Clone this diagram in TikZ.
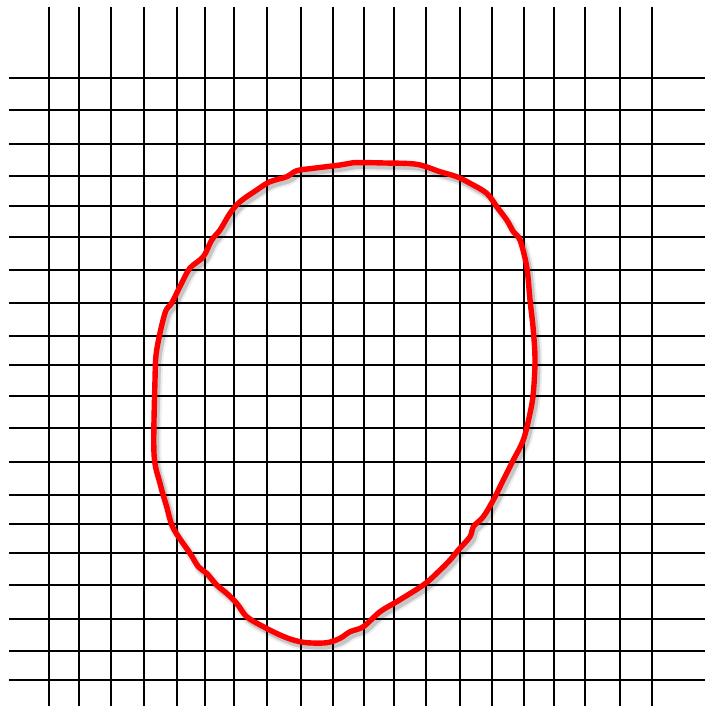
\documentclass[tikz,border=0pt]{standalone}
\usetikzlibrary{calc}
\definecolor{loopred}{RGB}{255,0,0}
\tikzset{
  gridline/.style={line width=2.6pt, black},
  loopline/.style={line width=5.4pt, loopred, line join=round, line cap=round},
  loopshadow/.style={line width=6pt, black, opacity=0.16, line join=round, line cap=round},
}
\begin{document}
\begin{tikzpicture}[x=1pt,y=-1pt]
\useasboundingbox (0,0) rectangle (705,706);
\fill[white] (0,0) rectangle (705,706);
% vertical lines
\foreach \x in {49,79,111,144,177,205,234,267,301,333,364,394,426,460,492,524,554,585,620,652}
  \draw[gridline] (\x,7) -- (\x,706);
% horizontal lines
\foreach \y in {78,110,144,176,206,237,270,303,336,365,396,428,462,495,524,553,585,619,651,680}
  \draw[gridline] (9,\y) -- (705,\y);
% red loop
\def\looppath{plot[smooth cycle, tension=0.55] coordinates {
 (156.7,350) (165,313) (171.7,303) (181.7,283) (190,268) (203.3,256.7) (211.7,240) (220,230)
 (230,213.3) (240,201.7) (256.7,190) (270,181.7) (286.7,176.7) (296.7,170.7) (313.3,168.3)
 (340,165) (353.3,162.7) (385,163) (416.7,164.3) (440,171.7) (456.7,176.7) (470,183.3)
 (486.7,193.3) (496.7,206.7) (506.7,220) (513.3,231.7) (520,240) (526.7,266.7) (530,300)
 (533.3,330) (535,360) (533.3,393.3) (530,413.3) (523.3,440) (513.3,460) (503.3,480)
 (493.3,500) (483.3,516.7) (473.3,526.7) (470,536.7) (458.3,550) (450,560) (436.7,573.3)
 (423.3,585) (396.7,601.7) (380,611.7) (363.3,626.7) (350,631.7) (340,638.3) (326.7,642.7)
 (306.7,642.7) (293.3,640) (280,635) (263.3,626.7) (246.7,616.7) (236.7,603.3) (226.7,593.3)
 (216.7,585) (206.7,573.3) (198.3,566.7) (190,553.3) (173.3,528.3) (166.7,506.7) (160,483.3)
 (154,453.3) (155,380)}}
\begin{scope}[shift={(2.5,3.5)}]
  \draw[loopshadow, line width=10pt, opacity=0.07] \looppath;
  \draw[loopshadow] \looppath;
\end{scope}
\draw[loopline] \looppath;
\end{tikzpicture}
\end{document}
